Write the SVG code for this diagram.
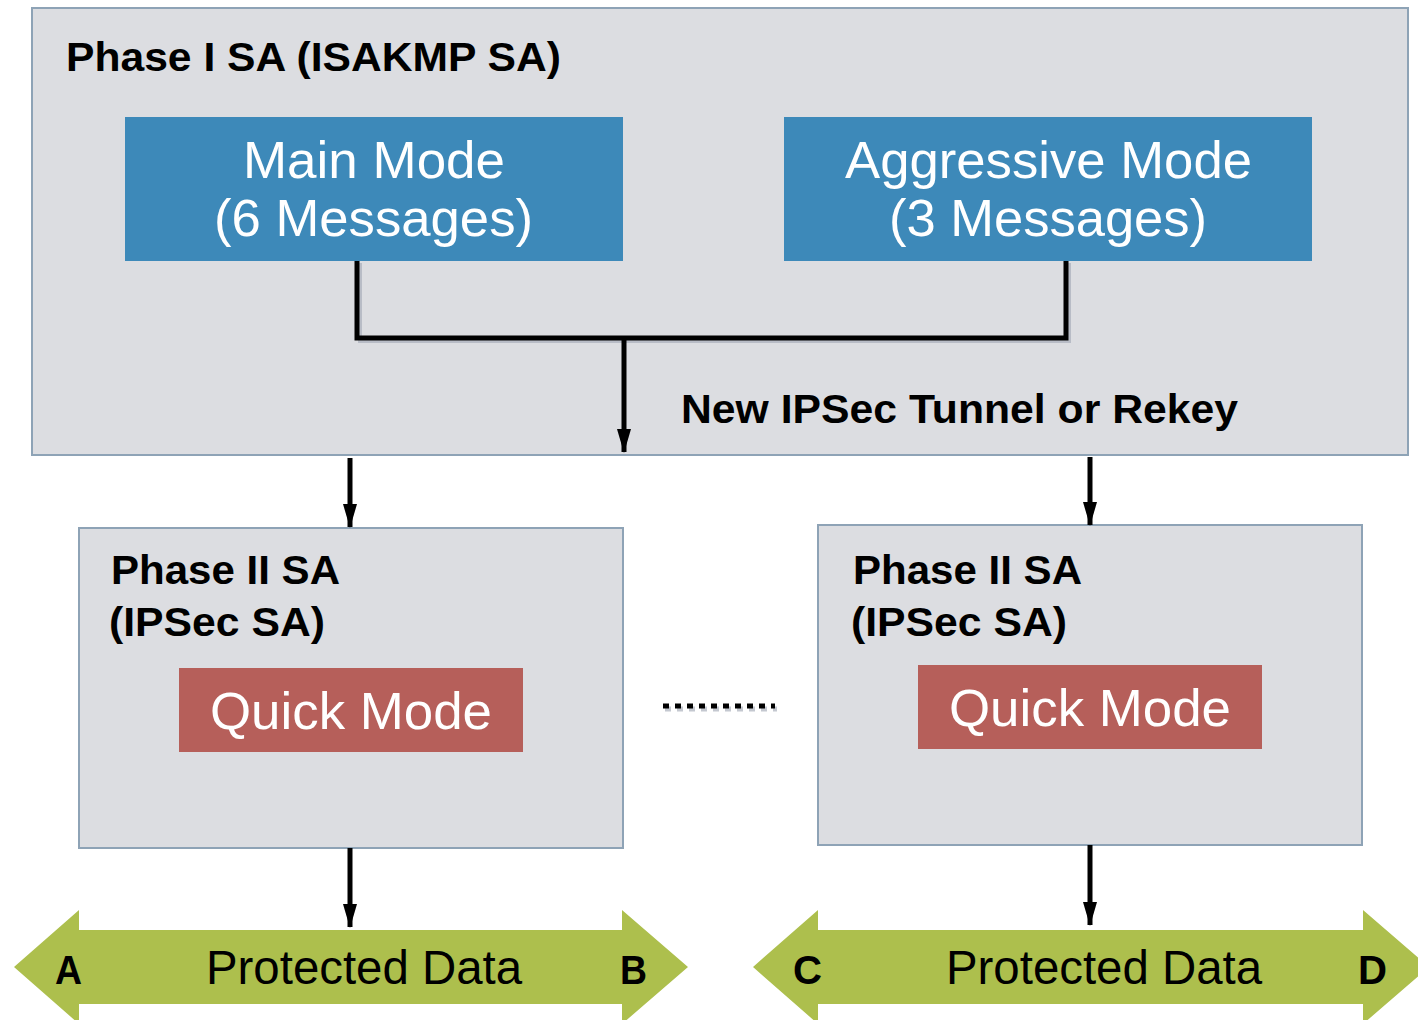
<svg xmlns="http://www.w3.org/2000/svg" width="1418" height="1020" viewBox="0 0 1418 1020">
<style>
.box{fill:#dcdde1;stroke:#8ea3b6;stroke-width:2}
.blue{fill:#3d89b9}
.red{fill:#b65f5a}
.green{fill:#adbf4d}
.wt{font-family:"Liberation Sans",Arial,sans-serif;fill:#fff;font-size:52px}
.bt{font-family:"Liberation Sans",Arial,sans-serif;fill:#000;font-weight:bold;font-size:40px}
.pd{font-family:"Liberation Sans",Arial,sans-serif;fill:#000;font-size:48px}
.ln{fill:none;stroke:#000;stroke-width:5}
.sh{fill:none;stroke:#b8bcc6;stroke-width:4}
</style>
<defs>
<marker id="ah" viewBox="0 0 24 14" refX="23" refY="7" markerWidth="24" markerHeight="14" markerUnits="userSpaceOnUse" orient="auto">
<path d="M0,0 L24,7 L0,14 Z" fill="#000"/>
</marker>
</defs>
<g id="phase1">
<rect class="box" x="32" y="8" width="1376" height="447"/>
<text class="bt" x="66" y="71" textLength="495" lengthAdjust="spacingAndGlyphs">Phase I SA (ISAKMP SA)</text>
</g>
<g id="mainmode">
<rect class="blue" x="125" y="117" width="498" height="144"/>
<text class="wt" x="243" y="178" textLength="262" lengthAdjust="spacingAndGlyphs">Main Mode</text>
<text class="wt" x="214" y="236" textLength="319" lengthAdjust="spacingAndGlyphs">(6 Messages)</text>
</g>
<g id="aggressive">
<rect class="blue" x="784" y="117" width="528" height="144"/>
<text class="wt" x="845" y="178" textLength="407" lengthAdjust="spacingAndGlyphs">Aggressive Mode</text>
<text class="wt" x="889" y="236" textLength="318" lengthAdjust="spacingAndGlyphs">(3 Messages)</text>
</g>
<g id="phase2a">
<rect class="box" x="79" y="528" width="544" height="320"/>
<text class="bt" x="111" y="584" textLength="229" lengthAdjust="spacingAndGlyphs">Phase II SA</text>
<text class="bt" x="109" y="636" textLength="216" lengthAdjust="spacingAndGlyphs">(IPSec SA)</text>
</g>
<g id="quick-a">
<rect class="red" x="179" y="668" width="344" height="84"/>
<text class="wt" x="210" y="729" textLength="282" lengthAdjust="spacingAndGlyphs">Quick Mode</text>
</g>
<g id="phase2b">
<rect class="box" x="818" y="525" width="544" height="320"/>
<text class="bt" x="853" y="584" textLength="229" lengthAdjust="spacingAndGlyphs">Phase II SA</text>
<text class="bt" x="851" y="636" textLength="216" lengthAdjust="spacingAndGlyphs">(IPSec SA)</text>
</g>
<g id="quick-b">
<rect class="red" x="918" y="665" width="344" height="84"/>
<text class="wt" x="949" y="726" textLength="282" lengthAdjust="spacingAndGlyphs">Quick Mode</text>
</g>
<g id="data-ab">
<path class="green" d="M14,967 L79,910 L79,930 L622,930 L622,910 L688,967 L622,1024 L622,1004 L79,1004 L79,1024 Z"/>
<text class="bt" x="55" y="984" font-size="44" textLength="27" lengthAdjust="spacingAndGlyphs">A</text>
<text class="pd" x="206" y="984" textLength="316" lengthAdjust="spacingAndGlyphs">Protected Data</text>
<text class="bt" x="620" y="984" font-size="44" textLength="27" lengthAdjust="spacingAndGlyphs">B</text>
</g>
<g id="data-cd">
<path class="green" d="M753,967 L818,910 L818,930 L1363,930 L1363,910 L1429,967 L1363,1024 L1363,1004 L818,1004 L818,1024 Z"/>
<text class="bt" x="793" y="984" font-size="44" textLength="29" lengthAdjust="spacingAndGlyphs">C</text>
<text class="pd" x="946" y="984" textLength="316" lengthAdjust="spacingAndGlyphs">Protected Data</text>
<text class="bt" x="1358" y="984" font-size="44" textLength="29" lengthAdjust="spacingAndGlyphs">D</text>
</g>
<g id="connectors">
<path class="sh" d="M360,263 L360,341 L1069,341 L1069,263"/>
<path class="ln" d="M357,261 L357,338 L1066,338 L1066,261"/>
<line class="ln" x1="624" y1="338" x2="624" y2="452" marker-end="url(#ah)"/>
<text class="bt" x="681" y="423" textLength="557" lengthAdjust="spacingAndGlyphs">New IPSec Tunnel or Rekey</text>
<line class="ln" x1="350" y1="458" x2="350" y2="527" marker-end="url(#ah)"/>
<line class="ln" x1="1090" y1="457" x2="1090" y2="525" marker-end="url(#ah)"/>
<line class="ln" x1="350" y1="848" x2="350" y2="927" marker-end="url(#ah)"/>
<line class="ln" x1="1090" y1="845" x2="1090" y2="925" marker-end="url(#ah)"/>
<line x1="665" y1="709" x2="777" y2="709" stroke="#c4c8d0" stroke-width="5" stroke-dasharray="6,6"/>
<line x1="663" y1="706" x2="775" y2="706" stroke="#000" stroke-width="5" stroke-dasharray="6,6"/>
</g>
</svg>
